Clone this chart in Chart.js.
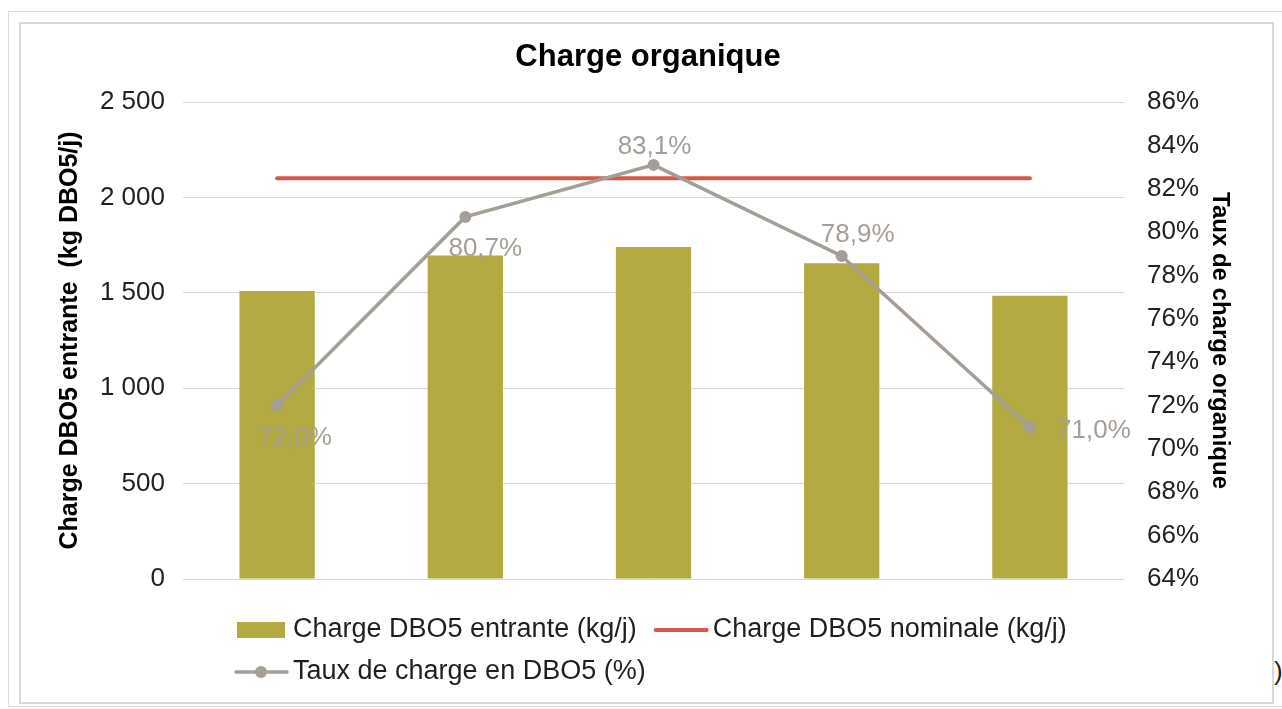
<!DOCTYPE html>
<html>
<head>
<meta charset="utf-8">
<script src="https://cdn.jsdelivr.net/npm/chart.js@4"></script>
<style>
  html, body { margin: 0; padding: 0; background: #fff; }
  body { width: 1282px; height: 709px; position: relative; overflow: hidden; }
  .outer { position: absolute; left: 8px; top: 11px; width: 1290px; height: 694px; border: 1px solid #dcdcdc; }
  .inner { position: absolute; left: 19px; top: 22px; width: 1251px; height: 678px; border: 2px solid #d9d9d9; }
  .wrap { position: absolute; left: 0; top: 0; width: 1282px; height: 709px; }
  .stray { position: absolute; left: 1274px; top: 656px; font: 26px 'Liberation Sans', Arial, sans-serif; color: #222; }
</style>
</head>
<body>
<div class="outer"></div>
<div class="inner"></div>
<span class="stray">)</span>
<div class="wrap"><canvas id="chart" width="1282" height="709"></canvas></div>
<script>
const categories = ['1', '2', '3', '4', '5'];
const chargeEntrante = [1510, 1695, 1740, 1655, 1485];
const chargeNominale = [2100, 2100, 2100, 2100, 2100];
const tauxCharge = [72.0, 80.7, 83.1, 78.9, 71.0];

// label offsets from each point (px)
const labelOffsets = [[18, 32], [20, 32], [1, -18], [16, -21], [64, 4]];

const olive = '#b3ab42';
const red = '#d9574a';
const grey = '#a59e97';
const fontFamily = "'Liberation Sans', Arial, sans-serif";

Chart.defaults.font.family = fontFamily;

const fmtThousands = (v) => String(v).replace(/\B(?=(\d{3})+(?!\d))/g, ' ');
const fmtPct = (v) => v.toFixed(1).replace('.', ',') + '%';

const pointLabels = {
    id: 'pointLabels',
    afterDatasetsDraw(chart) {
        const { ctx } = chart;
        const meta = chart.getDatasetMeta(2);
        ctx.save();
        ctx.font = '26px ' + fontFamily;
        ctx.fillStyle = grey;
        ctx.textAlign = 'center';
        ctx.textBaseline = 'middle';
        meta.data.forEach((pt, i) => {
            const [dx, dy] = labelOffsets[i];
            ctx.fillText(fmtPct(tauxCharge[i]), pt.x + dx, pt.y + dy);
        });
        ctx.restore();
    }
};

const bottomLegend = {
    id: 'bottomLegend',
    afterDraw(chart) {
        const { ctx } = chart;
        const ds = chart.data.datasets;
        const x0 = 237, row1 = 630, row2 = 672;
        ctx.save();
        ctx.font = '27px ' + fontFamily;
        ctx.textBaseline = 'middle';
        ctx.textAlign = 'left';

        // bar item
        ctx.fillStyle = ds[0].backgroundColor;
        ctx.fillRect(x0, row1 - 8, 48, 16);
        ctx.fillStyle = '#1f1f1f';
        ctx.fillText(ds[0].label, x0 + 56, row1);
        const x1 = x0 + 56 + ctx.measureText(ds[0].label).width + 19;

        // nominal line item
        ctx.strokeStyle = ds[1].borderColor;
        ctx.lineWidth = 4;
        ctx.lineCap = 'round';
        ctx.beginPath();
        ctx.moveTo(x1, row1);
        ctx.lineTo(x1 + 51, row1);
        ctx.stroke();
        ctx.fillText(ds[1].label, x1 + 57, row1);

        // rate line item
        ctx.strokeStyle = ds[2].borderColor;
        ctx.lineWidth = 3.5;
        ctx.beginPath();
        ctx.moveTo(x0 - 1, row2);
        ctx.lineTo(x0 + 50, row2);
        ctx.stroke();
        ctx.fillStyle = ds[2].borderColor;
        ctx.beginPath();
        ctx.arc(x0 + 24, row2, 6, 0, Math.PI * 2);
        ctx.fill();
        ctx.fillStyle = '#1f1f1f';
        ctx.fillText(ds[2].label, x0 + 56, row2);
        ctx.restore();
    }
};

new Chart(document.getElementById('chart'), {
    type: 'bar',
    data: {
        labels: categories,
        datasets: [
            {
                type: 'bar',
                label: 'Charge DBO5 entrante (kg/j)',
                data: chargeEntrante,
                backgroundColor: olive,
                barPercentage: 0.4,
                categoryPercentage: 1.0,
                yAxisID: 'y',
                order: 3
            },
            {
                type: 'line',
                label: 'Charge DBO5 nominale (kg/j)',
                data: chargeNominale,
                borderColor: red,
                backgroundColor: red,
                borderWidth: 4,
                borderCapStyle: 'round',
                pointRadius: 0,
                yAxisID: 'y',
                order: 2
            },
            {
                type: 'line',
                label: 'Taux de charge en DBO5 (%)',
                data: tauxCharge,
                borderColor: grey,
                backgroundColor: grey,
                borderWidth: 3.5,
                pointRadius: 6,
                pointBorderWidth: 0,
                pointBackgroundColor: grey,
                yAxisID: 'y1',
                order: 1
            }
        ]
    },
    plugins: [pointLabels, bottomLegend],
    options: {
        responsive: false,
        animation: false,
        layout: { padding: { left: 14, right: 0, top: 0, bottom: 0 } },
        plugins: {
            legend: { display: false },
            tooltip: { enabled: false },
            title: {
                display: true,
                text: 'Charge organique',
                color: '#000',
                font: { size: 31, weight: 'bold' },
                padding: { top: 39, bottom: 25.8 }
            }
        },
        scales: {
            x: {
                grid: { display: false },
                border: { display: false },
                ticks: { display: false },
                afterFit: (scale) => { scale.height = 130; }
            },
            y: {
                position: 'left',
                min: 0,
                max: 2500,
                ticks: {
                    stepSize: 500,
                    padding: 18,
                    color: '#222',
                    font: { size: 26 },
                    callback: (v) => fmtThousands(v)
                },
                grid: { color: '#d9d9d9', drawTicks: false },
                border: { display: false },
                title: {
                    display: true,
                    text: 'Charge DBO5 entrante  (kg DBO5/j)',
                    color: '#000',
                    font: { size: 25, weight: 'bold' },
                    padding: { top: 41 }
                },
                afterFit: (scale) => { scale.width = 169; }
            },
            y1: {
                position: 'right',
                min: 64,
                max: 86,
                ticks: {
                    stepSize: 2,
                    padding: 23,
                    color: '#222',
                    font: { size: 26 },
                    callback: (v) => v + '%'
                },
                grid: { drawOnChartArea: false, drawTicks: false },
                border: { display: false },
                title: {
                    display: true,
                    text: 'Taux de charge organique',
                    color: '#000',
                    font: { size: 24, weight: 'bold' },
                    padding: { top: 47.6 }
                },
                afterFit: (scale) => { scale.width = 158; }
            }
        }
    }
});
</script>
</body>
</html>
